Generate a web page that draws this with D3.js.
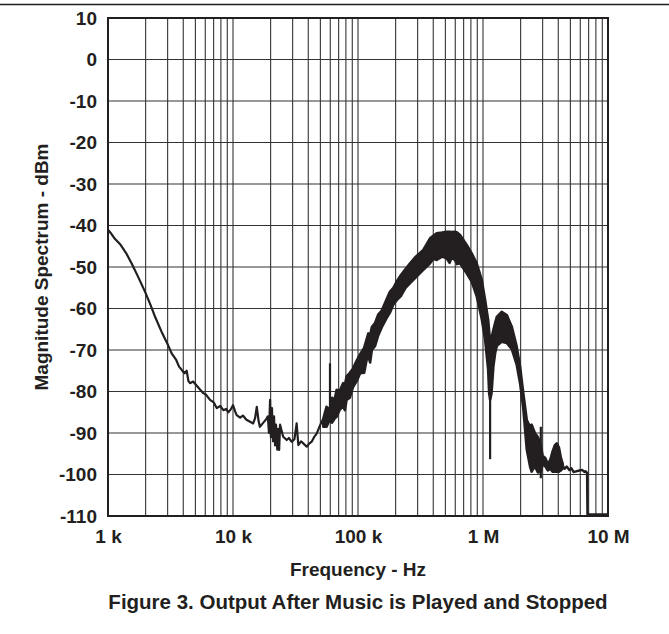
<!DOCTYPE html>
<html><head><meta charset="utf-8">
<script src="https://cdn.jsdelivr.net/npm/d3@7"></script>
<style>
html,body{margin:0;padding:0;background:#fff;}
text{font-family:"Liberation Sans",Arial,sans-serif;font-weight:bold;fill:#231f20;}
</style></head>
<body><svg id="chart" width="669" height="634"></svg>
<script>
// ---- data ----
const xTickValues = [1e3, 1e4, 1e5, 1e6, 1e7];
const xTickLabels = ["1 k", "10 k", "100 k", "1 M", "10 M"];
const yTickValues = [10, 0, -10, -20, -30, -40, -50, -60, -70, -80, -90, -100, -110];
const yTickLabels = ["10", "0", "-10", "-20", "-30", "-40", "-50", "-60", "-70", "-80", "-90", "-100", "-110"];

// low-frequency noise trace (Hz, dBm)
const traceF = [1000,1050,1120,1250,1400,1550,1750,1980,2200,2380,2700,3040,3230,3500,3700,3890,4100,4260,4400,4530,4800,5130,5400,5790,6100,6550,7000,7410,7900,8370,8800,9170,9600,10000,10400,10700,11400,12000,12800,13700,14500,15000,15500,16000,16400,17500,18500,19000,19400,19800,20100,20500,20900,21300,21700,22100,22600,23000,23400,23800,25200,26900,28000,29500,31000,32300,33300,35000,36500,38900,40500,42600,44500,46800,49800,52800];
const traceDb = [-41,-41.8,-43,-44.5,-46.7,-49.2,-52.5,-56,-59.3,-62,-65.8,-69,-70.8,-72.3,-74,-74.8,-75.6,-75,-77.5,-78,-77.6,-78.6,-79.4,-80.4,-80.8,-82,-82.6,-84,-83.5,-84.5,-84.2,-85,-84.3,-83.3,-84.8,-85.7,-86.3,-85.8,-86.8,-87.3,-87.7,-86.5,-83.7,-87,-88.5,-87.5,-86.6,-86,-90,-82,-91,-84,-92,-86,-93,-88,-94,-89,-94.1,-88,-90.9,-91.7,-91.2,-92.1,-91.5,-87.7,-92.9,-92,-92.5,-93.3,-92.6,-92.1,-91,-90.1,-88.1,-86.5];

// dense band (upper / lower envelope)
const bandF  = [52800,56000,59000,62000,65000,67500,71000,76000,78500,81000,86000,91000,97500,104000,112000,117000,121000,125000,129000,137000,145000,155000,168000,180000,192000,204000,220000,240000,261000,290000,333000,377000,400000,426000,470000,512000,540000,560000,597000,620000,655000,741000,812000,890000,977000,1040000,1100000,1120000,1140000,1170000,1210000,1250000,1290000,1410000,1550000,1700000,1860000,1980000,2100000,2240000,2380000,2450000,2600000,2750000,2900000,3000000,3150000,3300000,3450000,3600000,3750000,3890000,4050000,4200000,4350000];
const bandHi = [-86.5,-83.7,-84.5,-81.5,-82,-79.6,-80,-78,-78.5,-76.4,-75.5,-74.5,-72.6,-71,-69.5,-67.5,-66,-66.5,-64.5,-63.5,-61.5,-60.5,-58,-56,-55,-53.5,-52,-50.5,-49.1,-47.5,-45.9,-43.1,-42.5,-41.9,-41.7,-41.5,-41.5,-41.6,-41.5,-41.7,-42.3,-44.7,-46.7,-49.1,-53.1,-58,-62.8,-65.5,-68.4,-67,-65.2,-63.5,-62,-60.8,-61.6,-64.4,-69.2,-74,-80.4,-86.9,-88.5,-88,-90,-91,-93,-95.5,-96,-97.5,-96.5,-94.5,-93,-92.5,-93.5,-96,-97.5];
const bandLo = [-88.5,-88.5,-87,-87.5,-86.5,-86.1,-84.5,-83.5,-84.5,-82,-81.5,-79,-77.5,-75.6,-75.5,-72.5,-71.5,-73,-70,-69,-66.5,-64.5,-62.5,-61,-59,-58,-57,-55,-53.9,-52.5,-50.7,-49.1,-48,-48.3,-47.5,-47.9,-49,-47.8,-48.3,-49.3,-49.1,-51.5,-53.5,-57,-62.5,-67.5,-74.8,-80.4,-82,-80.4,-74,-70.8,-69,-68,-68.3,-69.8,-73.5,-78,-84,-94,-98.1,-99.3,-98,-99.5,-99.3,-97.5,-98,-99,-98.6,-99.3,-99.3,-99.3,-99.3,-99,-98.5];

// narrow spikes (Hz, top dBm, bottom dBm)
const spikeF   = [59700, 1140000, 2900000];
const spikeTop = [-73.2, -68, -88.5];
const spikeBot = [-86, -96.3, -100.9];

// high-frequency tail
const tailF  = [4350000,4500000,4670000,4900000,5100000,5300000,5460000,5800000,6200000,6500000,6600000,6800000,6850000,10000000];
const tailDb = [-98,-98.6,-98.1,-98.9,-98.5,-99.4,-99.3,-99.1,-98.9,-99.4,-99.2,-99.6,-109.6,-109.6];

// ---- chart ----
const svg = d3.select("#chart");
const L = 108, R = 608, T = 18, B = 516;
const x = d3.scaleLog().domain([1e3, 1e7]).range([L, R]);
const y = d3.scaleLinear().domain([-110, 10]).range([B, T]);
const ink = "#231f20";

// header rule
svg.append("line").attr("x1", 0).attr("x2", 669).attr("y1", 4.5).attr("y2", 4.5)
  .attr("stroke", ink).attr("stroke-width", 1.5);

// grid
const minorX = [];
for (let d = 1e3; d < 1e7; d *= 10) for (let k = 1; k < 10; k++) minorX.push(d * k);
svg.append("g").selectAll("line").data(minorX).join("line")
  .attr("x1", d => x(d)).attr("x2", d => x(d)).attr("y1", T).attr("y2", B)
  .attr("stroke", "#333").attr("stroke-width", 1.1);
svg.append("g").selectAll("line").data(yTickValues).join("line")
  .attr("x1", L).attr("x2", R).attr("y1", d => y(d)).attr("y2", d => y(d))
  .attr("stroke", "#333").attr("stroke-width", 1.1);

// curve
const pts = (F, D) => F.map((f, i) => [f, D[i]]);
const line = d3.line().x(d => x(d[0])).y(d => y(d[1]));
const area = d3.area().x(d => x(d.f)).y0(d => y(d.lo)).y1(d => y(d.hi));

svg.append("path").attr("d", line(pts(traceF, traceDb)))
  .attr("fill", "none").attr("stroke", ink).attr("stroke-width", 2.2).attr("stroke-linejoin", "round");
svg.append("path").attr("d", area(bandF.map((f, i) => ({f, hi: bandHi[i], lo: bandLo[i]}))))
  .attr("fill", ink).attr("stroke", ink).attr("stroke-width", 2.6).attr("stroke-linejoin", "round");
svg.append("g").selectAll("line").data(spikeF.map((f, i) => ({f, t: spikeTop[i], b: spikeBot[i]}))).join("line")
  .attr("x1", d => x(d.f)).attr("x2", d => x(d.f)).attr("y1", d => y(d.t)).attr("y2", d => y(d.b))
  .attr("stroke", ink).attr("stroke-width", 2.2);
svg.append("path").attr("d", line(pts(tailF, tailDb)))
  .attr("fill", "none").attr("stroke", ink).attr("stroke-width", 2.4).attr("stroke-linejoin", "round");

// frame
svg.append("rect").attr("x", L).attr("y", T).attr("width", R - L).attr("height", B - T)
  .attr("fill", "none").attr("stroke", ink).attr("stroke-width", 2);

// axes
const xAxis = d3.axisBottom(x).tickValues(xTickValues).tickFormat((d, i) => xTickLabels[i]).tickSize(0).tickPadding(14);
const gx = svg.append("g").attr("transform", `translate(0,${B})`).call(xAxis);
gx.select(".domain").remove();
const yAxis = d3.axisLeft(y).tickValues(yTickValues).tickFormat((d, i) => yTickLabels[i]).tickSize(0).tickPadding(11);
const gy = svg.append("g").attr("transform", `translate(${L},0)`).call(yAxis);
gy.select(".domain").remove();
svg.selectAll(".tick text").attr("font-family", null).attr("font-size", null)
  .style("font-size", "19px").attr("fill", ink);

// titles
svg.append("text").attr("x", 358).attr("y", 576).attr("text-anchor", "middle")
  .style("font-size", "19px").text("Frequency - Hz");
svg.append("text").attr("transform", "translate(48,267) rotate(-90)").attr("text-anchor", "middle")
  .style("font-size", "19px").text("Magnitude Spectrum - dBm");
svg.append("text").attr("x", 358).attr("y", 609).attr("text-anchor", "middle")
  .style("font-size", "20.5px").text("Figure 3. Output After Music is Played and Stopped");
</script></body></html>
